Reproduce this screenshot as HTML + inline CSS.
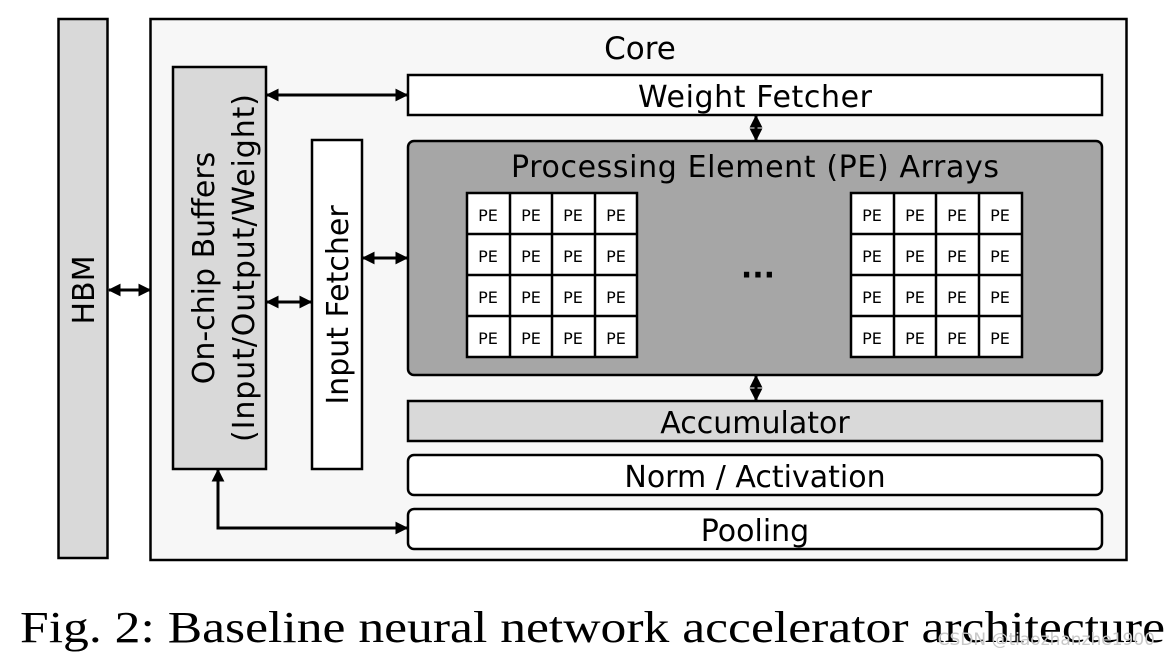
<!DOCTYPE html>
<html><head><meta charset="utf-8"><style>
html,body{margin:0;padding:0;background:#fff;}
svg{display:block;}
text{font-family:"DejaVu Sans","Liberation Sans",sans-serif;fill:#000;}
.pe{font-size:16px;text-anchor:middle;}
</style></head><body>
<svg width="1174" height="661" viewBox="0 0 1174 661" xmlns="http://www.w3.org/2000/svg">
<defs>
<marker id="a" viewBox="0 0 10 10" refX="9" refY="5" markerWidth="13" markerHeight="13" orient="auto-start-reverse" markerUnits="userSpaceOnUse"><path d="M0,0 L10,5 L0,10 z" fill="#000"/></marker>
</defs>
<g stroke="#000" stroke-width="2.5">
<rect x="58.5" y="19" width="49" height="539" fill="#d9d9d9"/>
<rect x="150.5" y="19" width="976" height="541" fill="#f7f7f7"/>
<rect x="173" y="67" width="93" height="402" fill="#d9d9d9"/>
<rect x="312" y="140" width="50" height="329" fill="#fff"/>
<rect x="408" y="75" width="694" height="40" fill="#fff"/>
<rect x="408" y="141" width="694" height="234" rx="6" fill="#a6a6a6"/>
<rect x="408" y="401" width="694" height="40" fill="#d9d9d9"/>
<rect x="408" y="455" width="694" height="40" rx="6" fill="#fff"/>
<rect x="408" y="509" width="694" height="40" rx="6" fill="#fff"/>
</g>
<g stroke="#000" stroke-width="2.5" fill="#fff">
<rect x="467" y="193" width="170" height="164"/>
<path d="M510 193V357M552 193V357M595 193V357M467 234H637M467 275H637M467 316H637"/>
<rect x="851" y="193" width="171" height="164"/>
<path d="M894 193V357M936 193V357M979 193V357M851 234H1022M851 275H1022M851 316H1022"/>
</g>
<g>
<text x="488" y="221" class="pe">PE</text><text x="531" y="221" class="pe">PE</text><text x="573" y="221" class="pe">PE</text><text x="616" y="221" class="pe">PE</text>
<text x="488" y="262" class="pe">PE</text><text x="531" y="262" class="pe">PE</text><text x="573" y="262" class="pe">PE</text><text x="616" y="262" class="pe">PE</text>
<text x="488" y="303" class="pe">PE</text><text x="531" y="303" class="pe">PE</text><text x="573" y="303" class="pe">PE</text><text x="616" y="303" class="pe">PE</text>
<text x="488" y="344" class="pe">PE</text><text x="531" y="344" class="pe">PE</text><text x="573" y="344" class="pe">PE</text><text x="616" y="344" class="pe">PE</text>
<text x="872" y="221" class="pe">PE</text><text x="915" y="221" class="pe">PE</text><text x="957" y="221" class="pe">PE</text><text x="1000" y="221" class="pe">PE</text>
<text x="872" y="262" class="pe">PE</text><text x="915" y="262" class="pe">PE</text><text x="957" y="262" class="pe">PE</text><text x="1000" y="262" class="pe">PE</text>
<text x="872" y="303" class="pe">PE</text><text x="915" y="303" class="pe">PE</text><text x="957" y="303" class="pe">PE</text><text x="1000" y="303" class="pe">PE</text>
<text x="872" y="344" class="pe">PE</text><text x="915" y="344" class="pe">PE</text><text x="957" y="344" class="pe">PE</text><text x="1000" y="344" class="pe">PE</text>
</g>
<text x="758" y="285" font-size="30" text-anchor="middle" font-weight="bold">···</text>
<g stroke="#000" stroke-width="3" fill="none" marker-start="url(#a)" marker-end="url(#a)">
<line x1="109" y1="290" x2="150" y2="290"/>
<line x1="267" y1="95" x2="407" y2="95"/>
<line x1="267" y1="302" x2="311" y2="302"/>
<line x1="363" y1="258" x2="407" y2="258"/>
<line x1="756" y1="116" x2="756" y2="140"/>
<line x1="756" y1="376" x2="756" y2="400"/>
<polyline points="218,470 218,528 407,528"/>
</g>
<text x="640" y="59" font-size="31" text-anchor="middle">Core</text>
<text x="755" y="107" font-size="30" text-anchor="middle" textLength="234">Weight Fetcher</text>
<text x="755" y="177" font-size="30" text-anchor="middle" textLength="488">Processing Element (PE) Arrays</text>
<text x="755" y="433" font-size="30" text-anchor="middle">Accumulator</text>
<text x="755" y="487" font-size="30" text-anchor="middle">Norm / Activation</text>
<text x="755" y="541" font-size="30" text-anchor="middle">Pooling</text>
<text transform="translate(94,290) rotate(-90)" font-size="30" text-anchor="middle">HBM</text>
<text transform="translate(214,268) rotate(-90)" font-size="30" text-anchor="middle">On-chip Buffers</text>
<text transform="translate(254,268) rotate(-90)" font-size="30" text-anchor="middle" textLength="348">(Input/Output/Weight)</text>
<text transform="translate(348,305) rotate(-90)" font-size="30" text-anchor="middle">Input Fetcher</text>
<text x="20" y="642" font-size="44" textLength="1145" lengthAdjust="spacingAndGlyphs" style="font-family:'Liberation Serif',serif">Fig. 2: Baseline neural network accelerator architecture</text>
<text x="1155" y="645" font-size="17" text-anchor="end" style="fill:#c8c8c8">CSDN @tiaozhanzhe1900</text>
</svg>
</body></html>
